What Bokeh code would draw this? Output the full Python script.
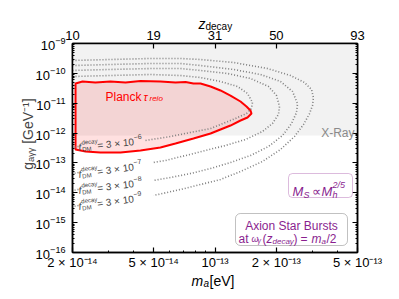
import math
from bokeh.plotting import figure
from bokeh.models import (LogAxis, FixedTicker, CustomJSTickFormatter, LogTickFormatter,
                          BoxAnnotation, Label, Range1d)
from bokeh.embed import file_html
from bokeh.resources import INLINE

nan = float("nan")

# ---------------- data ----------------
m_range = (2e-14, 5e-13)
g_range = (1e-16, 1e-9)

x_ticks = [2e-14, 5e-14, 1e-13, 2e-13, 5e-13]
x_tick_labels = ["2 × 10⁻¹⁴", "5 × 10⁻¹⁴", "10⁻¹³", "2 × 10⁻¹³", "5 × 10⁻¹³"]
x_minor = [3e-14, 4e-14, 6e-14, 7e-14, 8e-14, 9e-14, 3e-13, 4e-13]
z_tick_labels = ["10", "19", "31", "50", "93"]
g_ticks = [1e-16, 1e-15, 1e-14, 1e-13, 1e-12, 1e-11, 1e-10, 1e-9]
g_minor = [k * 10.0 ** e for e in range(-16, -9) for k in range(2, 10)]

xray_floor = 8.3e-13

planck_m = [2.07e-14, 2.07e-14, 2.24e-14, 2.59e-14, 3.07e-14, 3.64e-14, 4.31e-14, 5.40e-14,
            6.40e-14, 7.17e-14, 7.84e-14, 8.49e-14, 9.51e-14, 1.064e-13, 1.191e-13, 1.334e-13,
            1.427e-13, 1.493e-13, 1.510e-13, 1.444e-13, 1.334e-13, 1.191e-13, 1.064e-13,
            9.51e-14, 7.84e-14, 6.40e-14, 5.40e-14, 4.31e-14, 3.44e-14, 2.74e-14, 2.32e-14]
planck_g = [2.82e-13, 4.57e-11, 5.34e-11, 4.94e-11, 5.34e-11, 4.94e-11, 5.55e-11, 5.34e-11,
            4.94e-11, 5.14e-11, 4.57e-11, 4.57e-11, 3.63e-11, 2.67e-11, 1.81e-11, 1.14e-11,
            7.76e-12, 5.70e-12, 4.52e-12, 3.32e-12, 2.64e-12, 1.79e-12, 1.32e-12,
            9.67e-13, 6.58e-13, 4.47e-13, 3.29e-13, 2.61e-13, 2.24e-13, 2.24e-13, 2.41e-13]

f6_m = [2.00e-14, 3.07e-14, 4.83e-14, 6.77e-14, 8.49e-14, 1.064e-13, 1.29e-13, 1.444e-13, 1.527e-13,
        1.51e-13, 1.427e-13, 1.261e-13, 1.064e-13, 9.51e-14, 7.58e-14, 6.05e-14, 4.56e-14, nan,
        2.14e-14, 2.00e-14]
f6_g = [7.85e-11, 8.48e-11, 9.15e-11, 8.48e-11, 7.26e-11, 5.34e-11, 3.63e-11, 2.12e-11, 1.06e-11,
        6.65e-12, 4.52e-12, 3.08e-12, 1.94e-12, 1.42e-12, 1.05e-12, 7.68e-13, 5.64e-13, nan,
        3.55e-13, 3.29e-13]

f7_m = [2.00e-14, 3.07e-14, 4.83e-14, 6.77e-14, 8.49e-14, 1.152e-13, 1.493e-13, 1.83e-13, 2.003e-13,
        2.072e-13, 2.048e-13, 1.914e-13, 1.71e-13, 1.411e-13, 1.126e-13, 8.98e-14, 7.17e-14,
        5.72e-14, 4.94e-14, nan, 2.14e-14, 2.00e-14]
f7_g = [1.25e-10, 1.35e-10, 1.45e-10, 1.45e-10, 1.25e-10, 9.89e-11, 6.73e-11, 3.63e-11, 1.81e-11,
        7.76e-12, 4.19e-12, 2.09e-12, 1.13e-12, 6.09e-13, 3.84e-13, 2.61e-13, 1.77e-13,
        1.21e-13, 1.03e-13, nan, 4.78e-14, 4.42e-14]

f8_m = [2.00e-14, 3.07e-14, 4.83e-14, 6.77e-14, 8.49e-14, 1.233e-13, 1.672e-13, 2.096e-13, 2.40e-13,
        2.54e-13, 2.511e-13, 2.374e-13, 2.144e-13, 1.83e-13, 1.493e-13, 1.191e-13, 9.51e-14,
        7.58e-14, 6.05e-14, 4.99e-14, nan, 2.14e-14, 2.00e-14]
f8_g = [1.83e-10, 1.98e-10, 2.14e-10, 2.14e-10, 1.83e-10, 1.35e-10, 9.15e-11, 5.34e-11, 2.47e-11,
        9.78e-12, 4.89e-12, 2.09e-12, 8.29e-13, 3.55e-13, 1.77e-13, 1.03e-13, 6.51e-14,
        4.42e-14, 3.25e-14, 2.58e-14, nan, 1.29e-14, 1.19e-14]

f9_m = [2.00e-14, 3.07e-14, 4.83e-14, 6.77e-14, 8.49e-14, 1.233e-13, 1.81e-13, 2.346e-13, 2.748e-13,
        2.975e-13, 3.04e-13, 3.008e-13, 2.909e-13, 2.718e-13, 2.455e-13, 2.096e-13, 1.71e-13,
        1.334e-13, 1.064e-13, 8.49e-14, 6.77e-14, 4.99e-14, nan, 2.14e-14, 2.00e-14]
f9_g = [2.70e-10, 2.91e-10, 3.15e-10, 3.15e-10, 2.91e-10, 2.31e-10, 1.45e-10, 8.48e-11, 4.94e-11,
        2.88e-11, 1.55e-11, 8.38e-12, 4.52e-12, 1.94e-12, 7.68e-13, 2.82e-13, 1.12e-13,
        5.16e-14, 2.79e-14, 1.89e-14, 1.29e-14, 8.11e-15, nan, 3.75e-15, 3.47e-15]

contour_exponents = ["6", "7", "8", "9"]

# ---------------- layout ----------------
FONT = "Liberation Sans"
PURPLE = "#8a1e8f"
FL, FR, FT, FB = 72, 357, 43, 252   # frame edges in page pixels
W, H = 398, 298

p = figure(x_axis_type="log", y_axis_type="log",
           x_range=Range1d(*m_range), y_range=Range1d(*g_range),
           frame_width=FR - FL, frame_height=FB - FT,
           min_border_left=FL, min_border_right=W - FR,
           min_border_top=FT, min_border_bottom=H - FB,
           output_backend="svg", toolbar_location=None)
p.xgrid.visible = False
p.ygrid.visible = False
p.outline_line_color = "black"
p.outline_line_width = 1.5
p.background_fill_color = "white"
p.border_fill_color = "white"

JS = """
let best = 0, bd = Infinity;
for (let i = 0; i < vals.length; i++) {
  const d = Math.abs(Math.log(tick) - Math.log(vals[i]));
  if (d < bd) { bd = d; best = i; }
}
return labs[best];
"""

xax = p.xaxis[0]
xax.ticker = FixedTicker(ticks=x_ticks, minor_ticks=x_minor)
xax.formatter = CustomJSTickFormatter(args=dict(vals=x_ticks, labs=x_tick_labels), code=JS)
xax.major_label_standoff = 2

top = LogAxis(ticker=FixedTicker(ticks=x_ticks),
              formatter=CustomJSTickFormatter(args=dict(vals=x_ticks, labs=z_tick_labels), code=JS))
top.major_label_standoff = 4
p.add_layout(top, "above")

yax = p.yaxis[0]
yax.ticker = FixedTicker(ticks=g_ticks, minor_ticks=g_minor)
yax.formatter = LogTickFormatter()
yax.major_label_standoff = 7
# y title: leading em spaces shift the centred label upwards as in the reference
yax.axis_label = "\u2003\u2003gₐᵧᵧ [GeV⁻¹]"
yax.axis_label_text_font = FONT
yax.axis_label_text_font_size = "14px"
yax.axis_label_text_font_style = "normal"
yax.axis_label_standoff = -3

right = LogAxis(ticker=FixedTicker(ticks=g_ticks, minor_ticks=g_minor))
right.major_label_text_font_size = "2px"
right.major_label_text_alpha = 0
right.major_label_standoff = 0
p.add_layout(right, "right")

for ax in (xax, top, yax, right):
    ax.major_tick_in = 5
    ax.major_tick_out = 0
    ax.minor_tick_in = 2
    ax.minor_tick_out = 0
    ax.axis_line_width = 1.5
    ax.major_tick_line_width = 1.2
    ax.minor_tick_line_width = 1
    ax.major_label_text_font = FONT
    if ax is not right:
        ax.major_label_text_color = "black"
        ax.major_label_text_font_size = "13px"

# ---------------- marks ----------------
p.add_layout(BoxAnnotation(bottom=xray_floor, fill_color="#f2f2f2", fill_alpha=1.0,
                           line_alpha=0, level="underlay"))

p.patch(planck_m, planck_g, fill_color="red", fill_alpha=0.12, line_color="red", line_width=2)

for mm, gg in ((f6_m, f6_g), (f7_m, f7_g), (f8_m, f8_g), (f9_m, f9_g)):
    p.line(mm, gg, line_color="#7f7f7f", line_width=1.6, line_dash="1 2")

# ---------------- text helpers ----------------
LX0 = math.log10(m_range[0]); LXS = (math.log10(m_range[1]) - LX0) / (FR - FL)
LY1 = math.log10(g_range[1]); LYS = (LY1 - math.log10(g_range[0])) / (FB - FT)


def X(px):
    return 10 ** (LX0 + (px - FL) * LXS)


def Y(py):
    return 10 ** (LY1 - (py - FT) * LYS)


def add(px, py, text, size, color="black", style="normal", align="left", angle=0.0,
        place="center"):
    lab = Label(x=X(px), y=Y(py), text=text, text_font=FONT,
                text_font_size=f"{size}px", text_color=color, text_font_style=style,
                text_align=align, text_baseline="alphabetic", angle=angle,
                angle_units="rad")
    p.add_layout(lab, place)


def rot(px, py, ang_deg, pieces, color="black", place="center"):
    th = math.radians(ang_deg)
    for text, du, dv, size, style in pieces:
        x = px + du * math.cos(th) - dv * math.sin(th)
        y = py - du * math.sin(th) - dv * math.cos(th)
        add(x, y, text, size, color=color, style=style, angle=th, place=place)


# axis titles above / below the frame (side panels, so they are not clipped)
add(198, 23, "z", 14, style="italic", place="above")
add(205, 26, "decay", 10, place="above")
add(191, 280, "m", 14, style="italic", place="below")
add(203, 283, "a", 10, style="italic", place="below")
add(209, 280, "[eV]", 14, place="below")

# region labels
add(105, 96, "Planck", 12, color="red")
add(143, 96, "τ", 11, color="red", style="italic")
add(149, 98, "reio", 8, color="red", style="italic")
add(354, 132, "X-Ray", 12, color="#8a8a8a", align="right")

# contour labels
for (ax_, ay_, ang), e in zip([(78, 147, 6), (78, 174, 8), (78, 190, 7), (78, 206, 8)],
                              contour_exponents):
    rot(ax_, ay_, ang, [("f", 0, 0, 10, "italic"), ("decay", 3.5, 4.5, 6, "normal"),
                        ("DM", 3.5, -2.5, 6, "normal"), ("= 3 × 10", 19, 0, 10, "normal"),
                        ("−" + e, 56, 4.5, 7, "normal")], color="#444444")

# boxes
p.add_layout(BoxAnnotation(left=X(288), right=X(352), top=Y(173), bottom=Y(197),
                           fill_color="white", fill_alpha=1.0, line_color=PURPLE,
                           line_width=1, border_radius=4))
p.add_layout(BoxAnnotation(left=X(235), right=X(347), top=Y(213), bottom=Y(245),
                           fill_color="white", fill_alpha=1.0, line_color="#333333",
                           line_width=1, border_radius=5))

add(292, 191, "M", 13, color=PURPLE, style="italic")
add(303, 194, "S", 9, color=PURPLE, style="italic")
add(311, 191, "∝", 13, color=PURPLE)
add(321, 191, "M", 13, color=PURPLE, style="italic")
add(332, 194, "h", 9, color=PURPLE, style="italic")
add(332, 184, "2/5", 9, color=PURPLE, style="italic")

add(291, 225, "Axion Star Bursts", 12, color=PURPLE, align="center")
add(238, 238, "at", 12, color=PURPLE)
add(251, 238, "ω", 9, color=PURPLE, style="italic")
add(257, 240, "γ", 7, color=PURPLE, style="italic")
add(262, 238, "(", 12, color=PURPLE)
add(266, 238, "z", 12, color=PURPLE, style="italic")
add(272, 241, "decay", 8, color=PURPLE, style="italic")
add(293, 238, ")", 12, color=PURPLE)
add(300, 238, "=", 12, color=PURPLE)
add(311, 238, "m", 12, color=PURPLE, style="italic")
add(321, 241, "a", 8, color=PURPLE, style="italic")
add(326, 238, "/2", 12, color=PURPLE)

open("out.html", "w").write(file_html(p, INLINE))
